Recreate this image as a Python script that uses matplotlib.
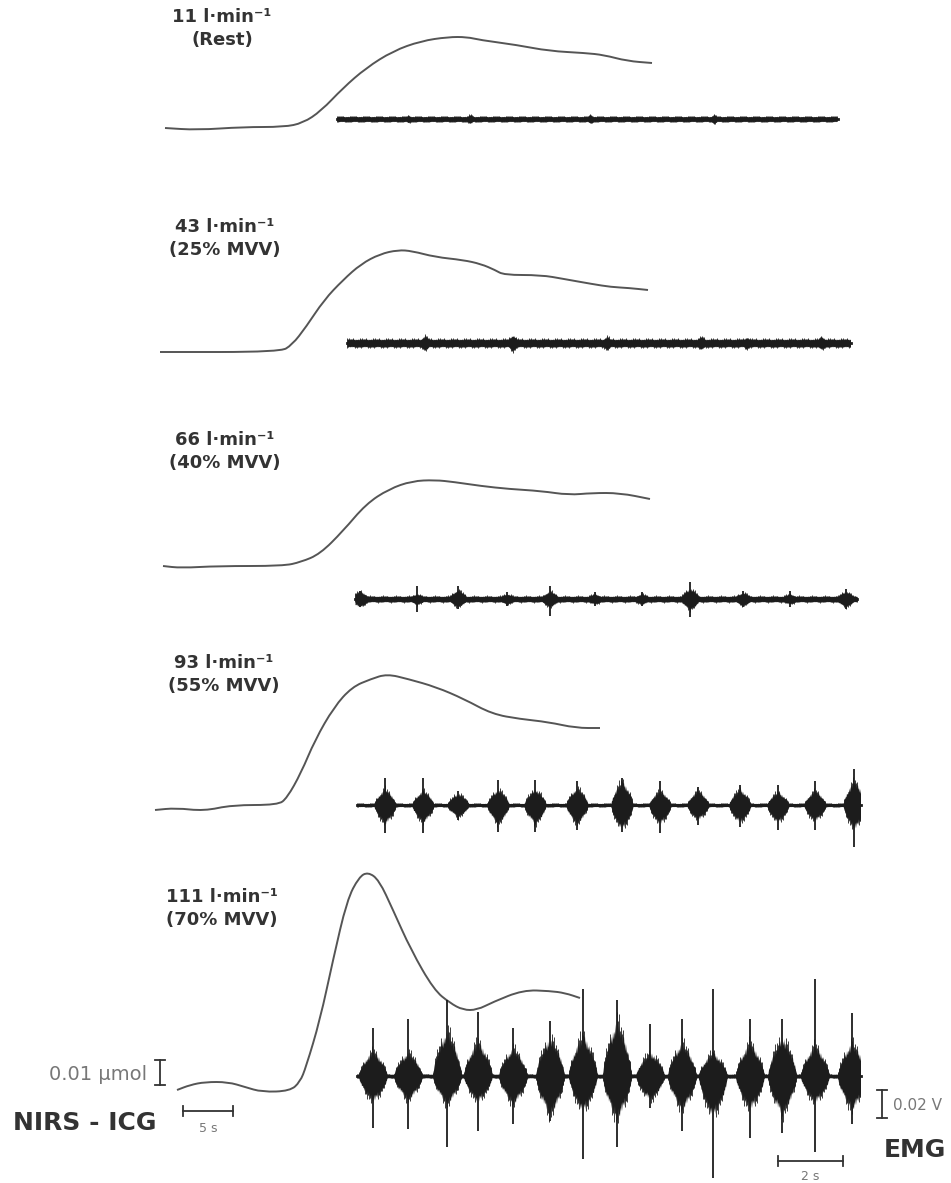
import numpy as np
import matplotlib
matplotlib.use("Agg")
import matplotlib.pyplot as plt
from matplotlib.path import Path
from matplotlib.patches import PathPatch
from matplotlib.transforms import Affine2D

plt.rcParams["font.family"] = ["DejaVu Sans"]

# ── calibration (from the scale bars) ─────────────────────────────────────────
NIRS_PX_PER_S = 10.0      # 5 s bar
NIRS_PX_PER_NMOL = 2.5    # 0.01 umol (= 10 nmol) bar
EMG_PX_PER_S = 32.5       # 2 s bar
EMG_PX_PER_MV = 1.4       # 0.02 V (= 20 mV) bar

# ── panel labels ──────────────────────────────────────────────────────────────
flow_labels = ["11 l·min⁻¹", "43 l·min⁻¹", "66 l·min⁻¹", "93 l·min⁻¹", "111 l·min⁻¹"]
load_labels = ["(Rest)", "(25% MVV)", "(40% MVV)", "(55% MVV)", "(70% MVV)"]

# ── NIRS-ICG traces: time (s) from start, ICG change (nmol) ───────────────────
t_rest = [0, 3.2, 7.8, 11.9, 13.8, 15.6, 17.8, 20.1, 22.8, 25.6, 28.3, 30.2, 31.5,
          35.2, 38.4, 42.0, 43.9, 46.2, 48.7]
icg_rest = [0, -0.8, 0.4, 0.4, 2.0, 6.8, 16.0, 24.0, 30.8, 34.8, 36.4, 36.4, 35.2,
            33.2, 30.8, 30.0, 29.2, 26.8, 26.0]

t_25 = [0, 12, 13.2, 14.6, 16.4, 18.3, 20.1, 22, 23.8, 25.2, 27.5, 30.3, 32.1, 33.5,
        34.4, 38.1, 40.4, 43.2, 45.1, 46.9, 48.8]
icg_25 = [0, 0, 2.8, 10, 20.8, 28.8, 35.2, 39.2, 40.8, 40.4, 38, 36.8, 35.2, 32.8,
          30.8, 30.8, 29.2, 27.2, 26, 25.6, 24.8]

t_40 = [0, 1.8, 5.5, 12, 13.8, 15.7, 18, 20.3, 22.6, 24.9, 27.2, 29.1, 31.8, 34.6,
        37.8, 40.6, 42.9, 45.7, 48.7]
icg_40 = [0, -0.8, 0, 0, 1.6, 4.8, 14, 24.8, 30.8, 34, 34.4, 33.6, 32, 30.8, 30,
          28.4, 29.2, 29.2, 26.8]

t_55 = [0, 2.1, 4.9, 7.7, 12.3, 13.2, 14.6, 16, 17.9, 19.7, 21.6, 23.2, 25.3, 28.1,
        30.9, 33.7, 36.5, 39.3, 42.1, 44.5]
icg_55 = [-0.8, 0, -1.2, 1.2, 1.2, 4, 14, 27.2, 40.4, 48.4, 51.6, 53.6, 51.6, 48.4,
          43.6, 37.6, 35.6, 34.4, 32, 32]

t_70 = [0, 1.3, 2.8, 5.1, 6.8, 8.5, 11.3, 12.3, 12.9, 14.3, 15.6, 17, 18.2, 19.1,
        20.2, 21.6, 23.4, 25.7, 27.3, 28.6, 30, 31.6, 34.6, 37.3, 38.8, 40.3]
icg_70 = [0, 2, 3.2, 3.2, 1.2, -0.8, -0.4, 3.2, 9.2, 28, 52, 76, 85.2, 87.2, 84, 72,
          56, 40, 34.8, 32, 32, 35.2, 40, 39.6, 38.8, 36.8]

# ── EMG: burst centre (s), body envelope up/down (mV), peak spike up/down (mV) ─
emg_noise = [2.0, 3.0, 2.2, 1.3, 1.5]          # baseline band half-height (mV)
emg_duration = [15.4, 15.5, 15.45, 15.5, 15.5]  # s
emg_half_burst = [0.15, 0.2, 0.3, 0.34, 0.44]   # s

burst_t_rest = [2.2, 4.1, 7.8, 11.6]
burst_up_rest = [3, 3.5, 3.5, 3.5]
burst_dn_rest = [3, 3.5, 3.5, 3.5]

burst_t_25 = [2.4, 5.1, 8.0, 10.9, 12.3, 14.6]
burst_up_25 = [5.5, 6, 5, 5, 4.5, 5]
burst_dn_25 = [5.5, 6, 5, 5, 4.5, 5]

burst_t_40 = [0.15, 1.91, 3.17, 4.68, 6.0, 7.38, 8.83, 10.31, 11.94, 13.38, 15.1]
burst_up_40 = [6, 4, 7, 4, 6, 4, 4, 8, 5, 4, 6]
burst_dn_40 = [6, 4, 6, 4, 6, 4, 4, 8, 5, 4, 6]
spike_up_40 = [6, 9, 9, 5, 9, 5, 5, 12, 6, 6, 7]
spike_dn_40 = [6, 9, 7, 5, 12, 5, 5, 13, 6, 6, 7]

burst_t_55 = [0.86, 2.03, 3.11, 4.34, 5.48, 6.77, 8.15, 9.32, 10.49, 11.78, 12.95,
              14.09, 15.3]
burst_up_55 = [12, 11, 9, 12, 12, 13, 18, 11, 11, 12, 10, 11, 18]
burst_dn_55 = [14, 13, 9, 14, 14, 14, 18, 14, 11, 13, 13, 12, 18]
spike_up_55 = [19, 19, 10, 18, 18, 17, 19, 17, 13, 14, 14, 17, 26]
spike_dn_55 = [20, 20, 11, 19, 19, 18, 19, 20, 14, 16, 18, 18, 30]

burst_t_70 = [0.49, 1.57, 2.77, 3.72, 4.80, 5.94, 6.95, 8.0, 9.02, 10.0, 10.95,
              12.09, 13.08, 14.09, 15.23]
burst_up_70 = [19, 18, 34, 26, 21, 29, 31, 41, 18, 25, 18, 25, 29, 23, 25]
burst_dn_70 = [19, 18, 21, 19, 21, 29, 26, 32, 18, 25, 30, 25, 29, 20, 25]
spike_up_70 = [34, 41, 54, 46, 34, 39, 62, 54, 37, 41, 62, 41, 41, 69, 45]
spike_dn_70 = [37, 38, 51, 39, 34, 32, 59, 51, 23, 39, 73, 44, 41, 54, 34]

# ── layout (figure pixels) ────────────────────────────────────────────────────
label_xy = [(222, 17), (225, 227), (225, 440), (224, 663), (222, 897)]
nirs_origin = [(165, 128), (160, 352), (163, 566), (155, 808), (177, 1090)]
emg_origin = [(337, 119), (347, 343), (355, 599), (357, 805), (357, 1076)]

NIRS_COLOR = "#555555"
EMG_COLOR = "#1c1c1c"
TEXT_COLOR = "#333333"
SCALE_COLOR = "#777777"
# edge raggedness pattern for the EMG bands (purely cosmetic)
JAG_BODY = np.array([1.0, 0.8, 0.93, 0.72, 0.97, 0.84, 0.76, 0.9, 0.82, 1.0, 0.74, 0.88, 0.95])
JAG_LINE = np.array([1.12, 0.6, 1.0, 0.5, 1.18, 0.7, 0.9, 0.55, 1.05, 0.65, 0.95, 0.5, 1.1])

nirs = [(t_rest, icg_rest), (t_25, icg_25), (t_40, icg_40), (t_55, icg_55), (t_70, icg_70)]
emg = [
    (burst_t_rest, burst_up_rest, burst_dn_rest, None, None),
    (burst_t_25, burst_up_25, burst_dn_25, None, None),
    (burst_t_40, burst_up_40, burst_dn_40, spike_up_40, spike_dn_40),
    (burst_t_55, burst_up_55, burst_dn_55, spike_up_55, spike_dn_55),
    (burst_t_70, burst_up_70, burst_dn_70, spike_up_70, spike_dn_70),
]

fig = plt.figure(figsize=(9.51, 11.83), dpi=100)
ax = fig.add_axes([0, 0, 1, 1])
ax.set_autoscale_on(False)
ax.set_xlim(0, 951)
ax.set_ylim(1183, 0)
ax.axis("off")


def nirs_trans(x0, y0):
    return Affine2D().scale(NIRS_PX_PER_S, -NIRS_PX_PER_NMOL).translate(x0, y0) + ax.transData


def emg_trans(x0, y0):
    return Affine2D().scale(EMG_PX_PER_S, -EMG_PX_PER_MV).translate(x0, y0) + ax.transData


def smooth_path(t, y):
    """Quadratic-bezier path through the read points (drawn by matplotlib)."""
    p = np.column_stack([t, y]).astype(float)
    mids = (p[1:] + p[:-1]) / 2
    verts = [p[0], mids[0]]
    codes = [Path.MOVETO, Path.LINETO]
    for k in range(1, len(p) - 1):
        verts += [p[k], mids[k]]
        codes += [Path.CURVE3, Path.CURVE3]
    verts.append(p[-1])
    codes.append(Path.LINETO)
    return Path(verts, codes)


for i in range(5):
    lx, ly = label_xy[i]
    ax.text(lx, ly, flow_labels[i], ha="center", va="center", fontsize=13,
            fontweight="bold", color=TEXT_COLOR)
    ax.text(lx, ly + 23, load_labels[i], ha="center", va="center", fontsize=13,
            fontweight="bold", color=TEXT_COLOR)

    # NIRS-ICG curve
    t, icg = nirs[i]
    ax.add_patch(PathPatch(smooth_path(t, icg), fill=False, edgecolor=NIRS_COLOR,
                           lw=1.4, transform=nirs_trans(*nirs_origin[i])))

    # EMG trace
    bt, bu, bd, su, sd = emg[i]
    tr = emg_trans(*emg_origin[i])
    tt = np.arange(0, emg_duration[i], 0.5 / EMG_PX_PER_S)
    up = np.full(tt.size, emg_noise[i])
    dn = np.full(tt.size, emg_noise[i])
    for c, u, d in zip(bt, bu, bd):
        w = np.clip(1 - np.abs(tt - c) / emg_half_burst[i], 0, 1) ** 0.6
        up = np.maximum(up, u * w)
        dn = np.maximum(dn, d * w)
    jb = np.resize(JAG_BODY, tt.size)
    jl = np.resize(JAG_LINE, tt.size)
    ax.fill_between(tt, -dn * np.roll(jb, 5), up * jb, color=EMG_COLOR, lw=0, transform=tr)
    ax.vlines(tt[::2], -dn[::2] * np.roll(jl, 3)[::2], up[::2] * jl[::2],
              color=EMG_COLOR, lw=0.6, transform=tr)
    ax.plot([0, emg_duration[i]], [0, 0], color=EMG_COLOR, lw=2.0, transform=tr)
    if su is not None:
        ax.vlines(bt, -np.asarray(sd, float), su, color=EMG_COLOR, lw=1.3, transform=tr)

# ── calibration bars ─────────────────────────────────────────────────────────
bx, by = 160, 1085
ntr = nirs_trans(bx, by)
ax.plot([0, 0], [0, 10], color=TEXT_COLOR, lw=1.3, transform=ntr)
ax.plot([-0.5, 0.5], [0, 0], color=TEXT_COLOR, lw=1.3, transform=ntr)
ax.plot([-0.5, 0.5], [10, 10], color=TEXT_COLOR, lw=1.3, transform=ntr)
ax.text(147, 1075, "0.01 µmol", ha="right", va="center", fontsize=14, color=SCALE_COLOR)

ntr2 = nirs_trans(183, 1111)
ax.plot([0, 5], [0, 0], color=TEXT_COLOR, lw=1.3, transform=ntr2)
ax.plot([0, 0], [-2, 2], color=TEXT_COLOR, lw=1.3, transform=ntr2)
ax.plot([5, 5], [-2, 2], color=TEXT_COLOR, lw=1.3, transform=ntr2)
ax.text(208, 1128, "5 s", ha="center", va="center", fontsize=9, color=SCALE_COLOR)

etr = emg_trans(882, 1118)
ax.plot([0, 0], [0, 20], color=TEXT_COLOR, lw=1.3, transform=etr)
ax.plot([-0.15, 0.15], [0, 0], color=TEXT_COLOR, lw=1.3, transform=etr)
ax.plot([-0.15, 0.15], [20, 20], color=TEXT_COLOR, lw=1.3, transform=etr)
ax.text(893, 1105, "0.02 V", ha="left", va="center", fontsize=11, color=SCALE_COLOR)

etr2 = emg_trans(778, 1161)
ax.plot([0, 2], [0, 0], color=TEXT_COLOR, lw=1.3, transform=etr2)
ax.plot([0, 0], [-3.5, 3.5], color=TEXT_COLOR, lw=1.3, transform=etr2)
ax.plot([2, 2], [-3.5, 3.5], color=TEXT_COLOR, lw=1.3, transform=etr2)
ax.text(810, 1176, "2 s", ha="center", va="center", fontsize=9, color=SCALE_COLOR)

ax.text(13, 1123, "NIRS - ICG", ha="left", va="center", fontsize=18,
        fontweight="bold", color=TEXT_COLOR)
ax.text(915, 1150, "EMG", ha="center", va="center", fontsize=18,
        fontweight="bold", color=TEXT_COLOR)

fig.savefig("out.png", dpi=100, facecolor="white")
